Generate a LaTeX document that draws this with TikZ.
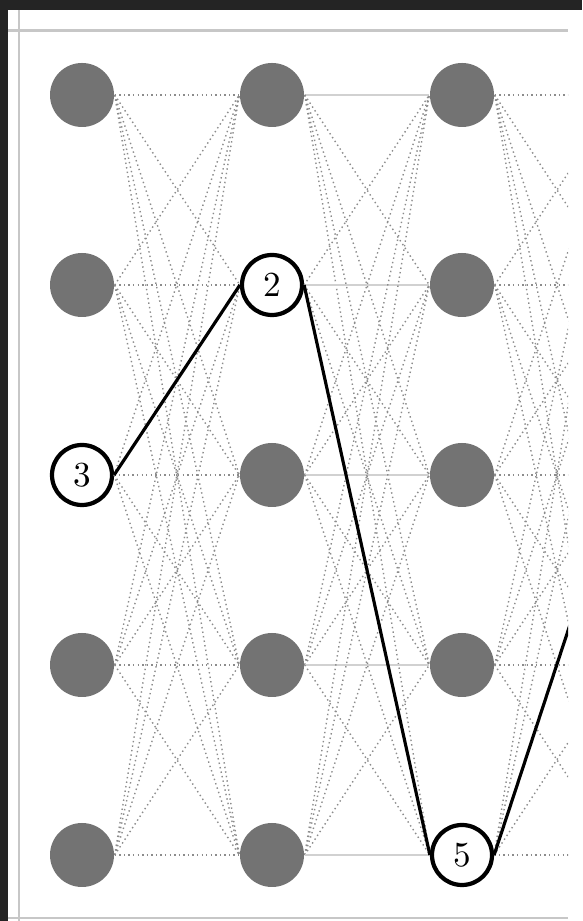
\documentclass[tikz,border=0pt]{standalone}
\begin{document}
\begin{tikzpicture}
        \tikzset{
            state/.style={circle, fill=black!55, minimum size=6.4mm, inner sep=0pt},
            pick/.style={circle, draw=black, fill=white, line width=1.2pt, minimum size=6mm, inner sep=0pt},
            arc/.style={black!45, line width=0.4pt, dash pattern=on 0.4pt off 0.9pt},
            flat/.style={black!18, line width=0.6pt},
            frame/.style={black!22, line width=0.85pt},
        }
        \useasboundingbox (0,0) rectangle (5.82,9.21);
        \fill[white] (0,0) rectangle (5.82,9.21);
        \fill[black!86] (0,9.11) rectangle (5.82,9.21);
        \fill[black!86] (0,0) rectangle (0.08,9.21);

        \begin{scope}
            \clip (0.08,0) rectangle (5.68,9.11);
            \draw[frame] (0.08,8.90) -- (5.68,8.90);
            \draw[frame] (0.08,0.03) -- (5.68,0.03);
            \draw[frame] (0.19,0) -- (0.19,9.11);

            % states, one column per step; the chosen one is drawn white
            \foreach \c/\h in {1/3,2/2,3/5,4/0}
                \foreach \r in {1,...,5} {
                    \ifnum\r=\h
                        \node[pick] (s\c_\r) at ({0.82+1.9*(\c-1)}, {8.26-1.9*(\r-1)}) {$\r$};
                    \else
                        \node[state] (s\c_\r) at ({0.82+1.9*(\c-1)}, {8.26-1.9*(\r-1)}) {};
                    \fi
                }

            % all transitions
            \foreach \c/\d in {1/2,2/3,3/4}
                \foreach \a in {1,...,5}
                    \foreach \b in {1,...,5} {
                        \def\look{arc}
                        \ifnum\c=2 \ifnum\a=\b \def\look{flat}\fi\fi
                        \draw[\look] (s\c_\a.east) -- (s\d_\b.west);
                    }

            % best path
            \draw[black, line width=0.9pt] (s1_3.east) -- (s2_2.west);
            \draw[black, line width=0.9pt] (s2_2.east) -- (s3_5.west);
            \draw[black, line width=0.9pt] (s3_5.east) -- (s4_3.west);
        \end{scope}
\end{tikzpicture}
\end{document}
